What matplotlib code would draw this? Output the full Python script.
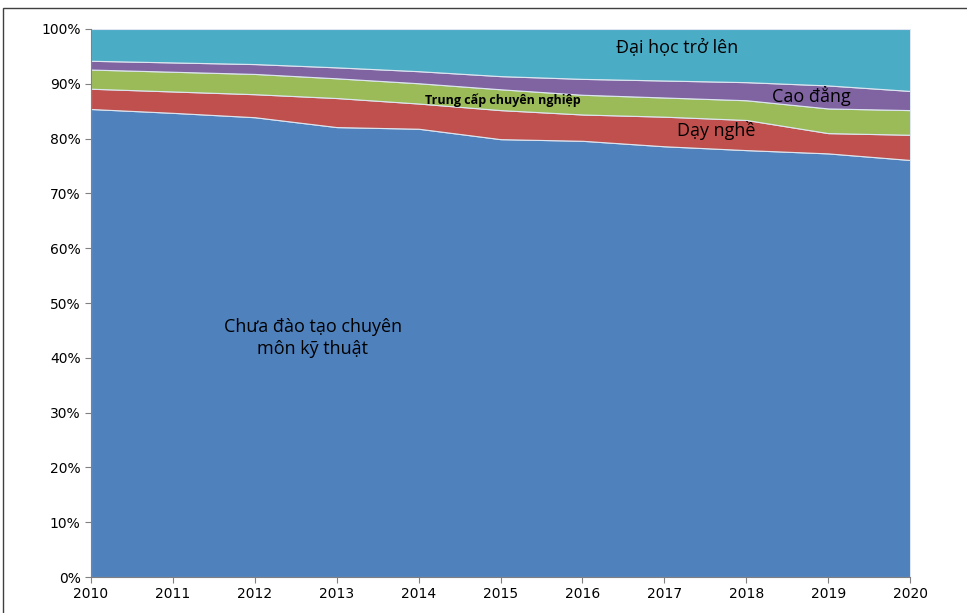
import matplotlib
matplotlib.use("Agg")
import matplotlib.pyplot as plt
from matplotlib.patches import Rectangle
from matplotlib.ticker import PercentFormatter

plt.rcParams['font.family'] = ['Open Sans', 'DejaVu Sans']

# du lieu (% lao dong theo trinh do)
nam = [2010, 2011, 2012, 2013, 2014, 2015, 2016, 2017, 2018, 2019, 2020]
chua_dao_tao = [85.4, 84.7, 83.9, 82.1, 81.8, 79.9, 79.6, 78.6, 77.9, 77.3, 76.1]
day_nghe = [3.7, 3.9, 4.2, 5.3, 4.6, 5.3, 4.8, 5.4, 5.5, 3.7, 4.6]
trung_cap = [3.5, 3.6, 3.7, 3.6, 3.7, 3.8, 3.6, 3.5, 3.6, 4.5, 4.5]
cao_dang = [1.6, 1.7, 1.8, 2.0, 2.2, 2.4, 2.9, 3.1, 3.3, 4.2, 3.5]
dai_hoc = [5.8, 6.1, 6.4, 7.0, 7.7, 8.6, 9.1, 9.4, 9.7, 10.3, 11.3]

mau = ["#4F81BD", "#C0504D", "#9BBB59", "#8064A2", "#4BACC6"]

fig = plt.figure(figsize=(9.67, 6.13), dpi=100)
ax = fig.add_axes([0.0941, 0.0587, 0.8470, 0.8940])

ax.stackplot(nam, chua_dao_tao, day_nghe, trung_cap, cao_dang, dai_hoc,
             colors=mau, edgecolor="#dde6f0", linewidth=0.8)

ax.set_xlim(2010, 2020)
ax.set_ylim(0, 100)
ax.set_xticks(nam)
ax.set_yticks(range(0, 101, 10))
ax.yaxis.set_major_formatter(PercentFormatter(decimals=0))
ax.tick_params(labelsize=10, length=4, color="#808080")
for lbl in ax.get_xticklabels() + ax.get_yticklabels():
    lbl.set_family(['Liberation Sans Narrow', 'DejaVu Sans'])
ax.spines["top"].set_visible(False)
ax.spines["right"].set_visible(False)
ax.spines["left"].set_color("#808080")
ax.spines["bottom"].set_color("#808080")

# nhan cac vung
ax.text(2017.16, 96.5, "Đại học trở lên", ha="center", va="center", fontsize=13)
ax.text(2018.79, 87.8, "Cao đẳng", ha="center", va="center", fontsize=13)
ax.text(2015.03, 87.0, "Trung cấp chuyên nghiệp", ha="center", va="center",
        fontsize=9, fontweight="bold")
ax.text(2017.63, 81.4, "Dạy nghề", ha="center", va="center", fontsize=13)
ax.text(2012.71, 43.6, "Chưa đào tạo chuyên\nmôn kỹ thuật", ha="center",
        va="center", fontsize=13, linespacing=1.3)

# khung ngoai
fig.patches.append(Rectangle((0.003, -0.01), 1.2, 0.9985 - 0.0114 + 0.01,
                             transform=fig.transFigure, fill=False,
                             edgecolor="#404040", linewidth=1))

fig.savefig("out.png", dpi=100)
